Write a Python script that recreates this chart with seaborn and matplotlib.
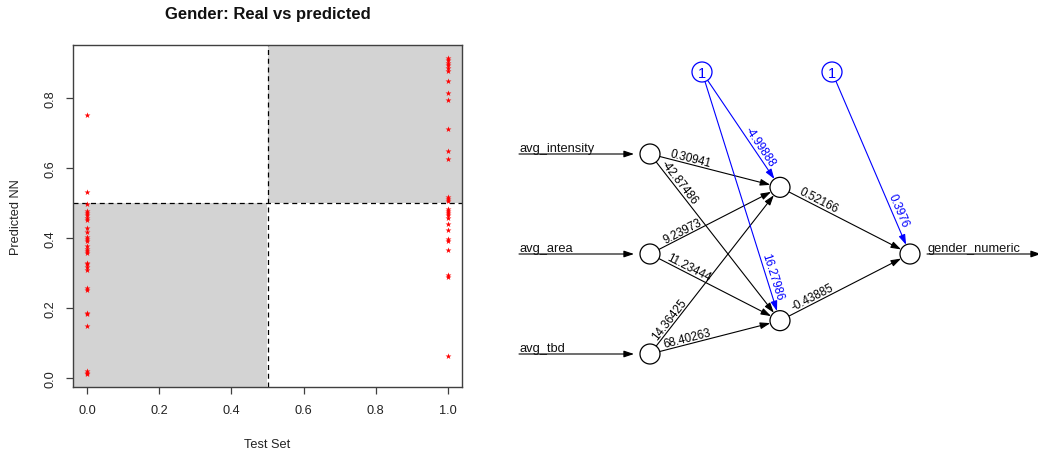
import numpy as np
import pandas as pd
import matplotlib
matplotlib.use("Agg")
import matplotlib.pyplot as plt
from matplotlib.patches import Rectangle, Circle
import seaborn as sns

# ---------------- data ----------------
# predicted network output for test cases whose true class is 0
pred_class0 = [0.752, 0.530, 0.498, 0.477, 0.472, 0.466, 0.458, 0.451, 0.427,
               0.417, 0.403, 0.398, 0.391, 0.376, 0.369, 0.362, 0.357, 0.329,
               0.324, 0.317, 0.307, 0.257, 0.250, 0.185, 0.182, 0.149, 0.019,
               0.013, 0.010]
# predicted network output for test cases whose true class is 1
pred_class1 = [0.915, 0.908, 0.901, 0.894, 0.886, 0.878, 0.848, 0.815, 0.793,
               0.712, 0.649, 0.626, 0.518, 0.511, 0.504, 0.482, 0.477, 0.472,
               0.466, 0.458, 0.439, 0.422, 0.398, 0.391, 0.365, 0.295, 0.289,
               0.062]
threshold = 0.5
x_ticks = [0.0, 0.2, 0.4, 0.6, 0.8, 1.0]
y_ticks = [0.0, 0.2, 0.4, 0.6, 0.8]

# network: inputs, hidden weights (bias first), output weights (bias first)
input_names = ["avg_intensity", "avg_area", "avg_tbd"]
output_name = "gender_numeric"
hidden_weights = [
    [-4.99888, 0.30941, 9.23973, 14.36425],
    [16.27986, -42.87486, 11.23444, 68.40263],
]
output_weights = [0.3976, 0.52166, -0.43885]

# ---------------- style ----------------
sns.set_theme(style="white")
plt.rcParams["font.family"] = ["Liberation Sans", "DejaVu Sans"]
frame_col = "#404040"

fig = plt.figure(figsize=(10.38, 4.56), dpi=100)
W, H = 1038, 456

# ---------------- scatter: real vs predicted ----------------
ax = fig.add_axes([73 / W, 1 - 388 / H, 389 / W, 342 / H])
df = pd.DataFrame({
    "real": [0.0] * len(pred_class0) + [1.0] * len(pred_class1),
    "pred": pred_class0 + pred_class1,
})

def r_limits(vals):
    lo, hi = min(vals), max(vals)
    pad = 0.04 * (hi - lo)
    return lo - pad, hi + pad

xlim = r_limits(df["real"])
ylim = r_limits(df["pred"])

# shaded quadrants: correct-classification regions
ax.add_patch(Rectangle((xlim[0] - 1, ylim[0] - 1), threshold - xlim[0] + 1,
                       threshold - ylim[0] + 1, facecolor="#d3d3d3",
                       edgecolor="none", zorder=0))
ax.add_patch(Rectangle((threshold, threshold), xlim[1] + 1 - threshold,
                       ylim[1] + 1 - threshold, facecolor="#d3d3d3",
                       edgecolor="none", zorder=0))
ax.axvline(threshold, color="black", lw=0.9, ls=(0, (4, 3)), zorder=1)
ax.axhline(threshold, color="black", lw=0.9, ls=(0, (4, 3)), zorder=1)

sns.scatterplot(data=df, x="real", y="pred", color="red", marker="*", s=20,
                linewidth=0, ax=ax, zorder=3)

ax.set_xlim(*xlim)
ax.set_ylim(*ylim)
ax.set_xticks(x_ticks)
ax.set_xticklabels([f"{v:.1f}" for v in x_ticks])
ax.set_yticks(y_ticks)
ax.set_yticklabels([f"{v:.1f}" for v in y_ticks], rotation=90, va="center")
ax.tick_params(axis="both", direction="out", length=5, width=0.9,
               color=frame_col, labelsize=9.2, labelcolor="#222222", pad=7,
               bottom=True, left=True)
for sp in ax.spines.values():
    sp.set_color(frame_col)
    sp.set_linewidth(1.0)
ax.set_xlabel("Test Set", fontsize=9.2, color="#222222")
ax.set_ylabel("Predicted NN", fontsize=9.2, color="#222222")
ax.xaxis.set_label_coords(0.5, -0.15)
ax.yaxis.set_label_coords(-0.13, 0.5)
fig.text(267.5 / W, 1 - 15 / H, "Gender: Real vs predicted", ha="center",
         va="center", fontsize=12, fontweight="bold", color="#111111")

# ---------------- network diagram ----------------
nx = fig.add_axes([480 / W, 0, (W - 480) / W, 1])
nx.set_xlim(480, W)
nx.set_ylim(H, 0)
nx.axis("off")

layer_x0, layer_step = 650, 130
center_y, span = 255, 400
bias_y = 73
radius = 10
intercept_factor = 0.4


def layer_positions(n, layer):
    x = layer_x0 + layer * layer_step
    return [(x, center_y + (i - (n - 1) / 2) * span / (n + 1)) for i in range(n)]


inputs = layer_positions(len(input_names), 0)
hidden = layer_positions(len(hidden_weights), 1)
outputs = layer_positions(1, 2)
biases = [(layer_x0 + (l + intercept_factor) * layer_step, bias_y) for l in (0, 1)]

arrow_kw = dict(arrowstyle="-|>,head_length=0.6,head_width=0.2",
                mutation_scale=10, shrinkA=0, shrinkB=0)


def arrow(p, q, color):
    nx.annotate("", xy=q, xytext=p, annotation_clip=False,
                arrowprops=dict(color=color, lw=0.8, **arrow_kw))


def edge(src, dst, weight, color, from_source=True, dist=40):
    (x1, y1), (x2, y2) = src, dst
    L = np.hypot(x2 - x1, y2 - y1)
    ux, uy = (x2 - x1) / L, (y2 - y1) / L
    arrow((x1 + ux * radius, y1 + uy * radius),
          (x2 - ux * radius, y2 - uy * radius), color)
    if from_source:
        tx, ty = x1 + ux * dist, y1 + uy * dist
    else:
        tx, ty = x2 - ux * dist, y2 - uy * dist
    ang = np.degrees(np.arctan2(-(y2 - y1), x2 - x1))
    nx.text(tx, ty, str(weight), rotation=ang, rotation_mode="anchor",
            ha="center", va="bottom", fontsize=8.4, color=color)


def node(p, color="black", label=None):
    nx.add_patch(Circle(p, radius, facecolor="white", edgecolor=color,
                        lw=0.9, zorder=5))
    if label is not None:
        nx.text(p[0], p[1] + 0.5, label, ha="center", va="center",
                fontsize=10.5, color=color, zorder=6)


blue = "#0000ff"

# input -> hidden edges
for j, (hp, w) in enumerate(zip(hidden, hidden_weights)):
    for i, ip in enumerate(inputs):
        edge(ip, hp, w[i + 1], "black")
    edge(biases[0], hp, w[0], blue, from_source=False, dist=45)

# hidden -> output edges
for j, hp in enumerate(hidden):
    edge(hp, outputs[0], output_weights[j + 1], "black")
edge(biases[1], outputs[0], output_weights[0], blue, from_source=False, dist=45)

# input labels with lead-in arrows
for name, (x, y) in zip(input_names, inputs):
    arrow((519, y), (x - radius - 6, y), "black")
    nx.text(520, y - 2.5, name, ha="left", va="baseline", fontsize=9.3,
            color="#111111")

# output label with lead-out arrow, running off the right edge
ox, oy = outputs[0]
arrow((ox + radius + 7, oy), (W + 3, oy), "black")
nx.text(ox + radius + 8, oy - 2.5, output_name, ha="left", va="baseline",
        fontsize=9.3, color="#111111")

for p in inputs + hidden + outputs:
    node(p)
for p in biases:
    node(p, blue, "1")

fig.savefig("out.png", dpi=100)
